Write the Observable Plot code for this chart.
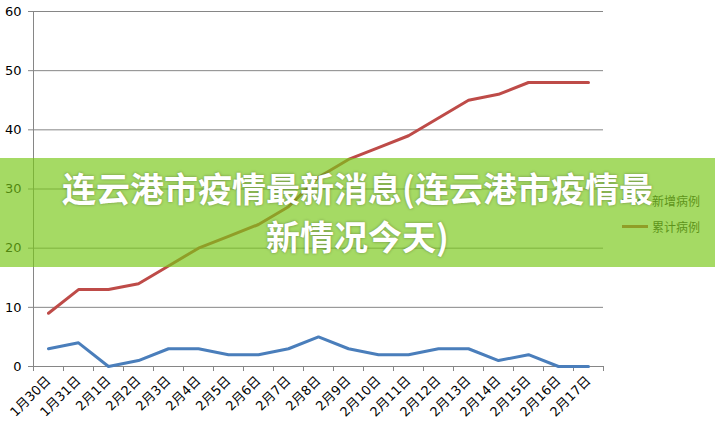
<!DOCTYPE html>
<html>
<head>
<meta charset="utf-8">
<script src="https://cdn.jsdelivr.net/npm/d3@7"></script>
<script src="https://cdn.jsdelivr.net/npm/@observablehq/plot@0.6"></script>
<style>
  html, body { margin: 0; padding: 0; background: #fff; }
  #wrap { position: relative; width: 715px; height: 426px; overflow: hidden; font-family: "DejaVu Sans", "Noto Sans CJK SC", sans-serif; }
  #legend { position: absolute; left: 622px; top: 187px; font-family: "Noto Sans CJK SC", sans-serif; font-size: 12px; color: #262626; }
  .item { display: flex; align-items: center; height: 26px; }
  .swatch { width: 26px; height: 3px; margin-right: 4px; }
  #banner { position: absolute; left: 0; top: 158px; width: 715px; height: 109px; background: rgba(121,200,24,0.67); }
  #title { position: absolute; left: 0; top: 164px; width: 715px; text-align: center; color: #fff; font-family: "Noto Sans CJK SC", sans-serif; font-weight: 700; font-size: 34px; line-height: 48px; text-shadow: 0 0 3px rgba(0,0,0,0.35); }
</style>
</head>
<body>
<div id="wrap">
  <div id="chart"></div>
  <div id="legend"></div>
  <div id="banner"></div>
  <div id="title">连云港市疫情最新消息(连云港市疫情最<br>新情况今天)</div>
</div>
<script>
const dates = ["1月30日","1月31日","2月1日","2月2日","2月3日","2月4日","2月5日","2月6日","2月7日","2月8日","2月9日","2月10日","2月11日","2月12日","2月13日","2月14日","2月15日","2月16日","2月17日"];
const newCases = [3,4,0,1,3,3,2,2,3,5,3,2,2,3,3,1,2,0,0];
const totalCases = [9,13,13,14,17,20,22,24,27,32,35,37,39,42,45,46,48,48,48];
const yTicks = [0,10,20,30,40,50,60];
const seriesNames = ["新增病例","累计病例"];
const seriesColors = ["#4A7EBB","#BE4B48"];

const idx = dates.map((d, i) => i);
const bounds = dates.map((d, i) => i - 0.5).concat([dates.length - 0.5]);
const rows = [];
idx.forEach(i => rows.push({i, v: newCases[i], s: seriesNames[0]}));
idx.forEach(i => rows.push({i, v: totalCases[i], s: seriesNames[1]}));

const chart = Plot.plot({
  width: 715,
  height: 426,
  marginLeft: 33,
  marginRight: 112,
  marginTop: 11,
  marginBottom: 60,
  style: {fontFamily: "DejaVu Sans, Noto Sans CJK SC, sans-serif", fontSize: "13px", color: "#000", background: "transparent"},
  x: {type: "linear", domain: [-0.5, dates.length - 0.5]},
  y: {domain: [0, 60]},
  color: {domain: seriesNames, range: seriesColors},
  marks: [
    Plot.ruleY(yTicks, {stroke: "#868686", strokeWidth: 1}),
    Plot.ruleX([-0.5], {y1: 0, y2: 60, stroke: "#868686", strokeWidth: 1}),
    Plot.axisY({ticks: yTicks, tickSize: 5, tickPadding: 7, stroke: "#868686", label: null, fontSize: 13, fill: "#000"}),
    Plot.axisX({ticks: bounds, tickSize: 5, tickFormat: () => "", stroke: "#868686", label: null}),
    Plot.axisX({ticks: idx, tickSize: 0, tickPadding: 12, tickRotate: -45, tickFormat: i => dates[i], label: null, fontSize: 13, fill: "#000"}),
    Plot.lineY(rows, {x: "i", y: "v", z: "s", stroke: "s", strokeWidth: 3, strokeLinejoin: "round"})
  ]
});
document.getElementById("chart").appendChild(chart);

const legend = document.getElementById("legend");
seriesNames.forEach((n, k) => {
  const item = document.createElement("div");
  item.className = "item";
  const sw = document.createElement("div");
  sw.className = "swatch";
  sw.style.background = seriesColors[k];
  const t = document.createElement("span");
  t.textContent = n;
  item.appendChild(sw);
  item.appendChild(t);
  legend.appendChild(item);
});
</script>
</body>
</html>
